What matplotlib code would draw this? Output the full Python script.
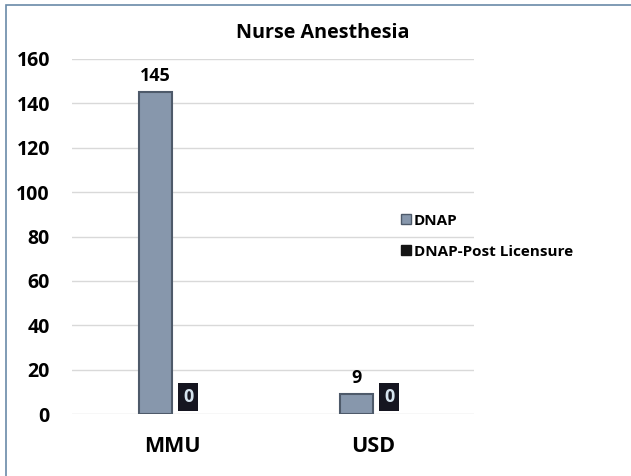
import matplotlib
matplotlib.use("Agg")
import matplotlib.pyplot as plt
from matplotlib.patches import Rectangle
from matplotlib.lines import Line2D
import numpy as np

categories = ["MMU", "USD"]
dnap = [145, 9]
dnap_post = [0, 0]
series_names = ["DNAP", "DNAP-Post Licensure"]
title = "Nurse Anesthesia"
yticks = [0, 20, 40, 60, 80, 100, 120, 140, 160]

plt.rcParams['font.family'] = ['Open Sans', 'DejaVu Sans']
plt.rcParams['font.weight'] = 'bold'

W, H = 631, 476
fig = plt.figure(figsize=(W/100, H/100), dpi=100)
fig.patches.append(Rectangle((6/W, -0.1), 1.2, (H-5)/H + 0.1, transform=fig.transFigure,
                             fill=False, edgecolor='#6a8aa8', linewidth=1.2))
ax = fig.add_axes([71.5/W, (H-414)/H, 402/W, (414-59)/H])

x = np.arange(len(categories))
w = 0.164
ax.bar(x - w/2, dnap, width=w, color='#8797ac', edgecolor='#4e5a6a', linewidth=1.5, zorder=3,
       label=series_names[0])
ax.bar(x + w/2, dnap_post, width=w, color='#151515', edgecolor='#151515', linewidth=0, zorder=3,
       label=series_names[1])

for xi, v in zip(x - w/2, dnap):
    ax.text(xi, v + 5, str(v), ha='center', va='baseline', fontsize=13, fontweight='bold', color='black')
for xi, v in zip(x + w/2, dnap_post):
    ax.text(xi, v + 3.6, str(v), ha='center', va='bottom', fontsize=13, fontweight='bold', color='#d5e3ee',
            bbox=dict(boxstyle='square,pad=0.27', facecolor='#151520', edgecolor='none'))

ax.set_xlim(-0.5, 1.5)
ax.set_ylim(0, 160)
ax.set_yticks(yticks)
ax.set_yticklabels([str(t) for t in yticks], fontsize=14, fontweight='bold')
ax.set_xticks(x)
ax.set_xticklabels(categories, fontsize=15.5, fontweight='bold')
ax.tick_params(axis='both', length=0)
ax.tick_params(axis='y', pad=15.5)
ax.tick_params(axis='x', pad=15.5)
ax.yaxis.grid(True, color='#d9d9d9', linewidth=1, zorder=0)
for s in ax.spines.values():
    s.set_visible(False)

fig.text(323/W, 1 - 38.5/H, title, ha='center', va='baseline', fontsize=14.2, fontweight='bold')

handles = [Line2D([], [], marker='s', linestyle='none', markersize=7.5, markerfacecolor='#8797ac',
                  markeredgecolor='#4e5a6a'),
           Line2D([], [], marker='s', linestyle='none', markersize=7.5, markerfacecolor='#151515',
                  markeredgecolor='#151515')]
fig.legend(handles, series_names, loc='upper left', bbox_to_anchor=(386/W, 1 - 200/H), frameon=False,
           prop={'size': 11, 'weight': 'bold'}, handletextpad=0.1, labelspacing=1.1, handlelength=0.8)

fig.savefig("out.png", dpi=100)
